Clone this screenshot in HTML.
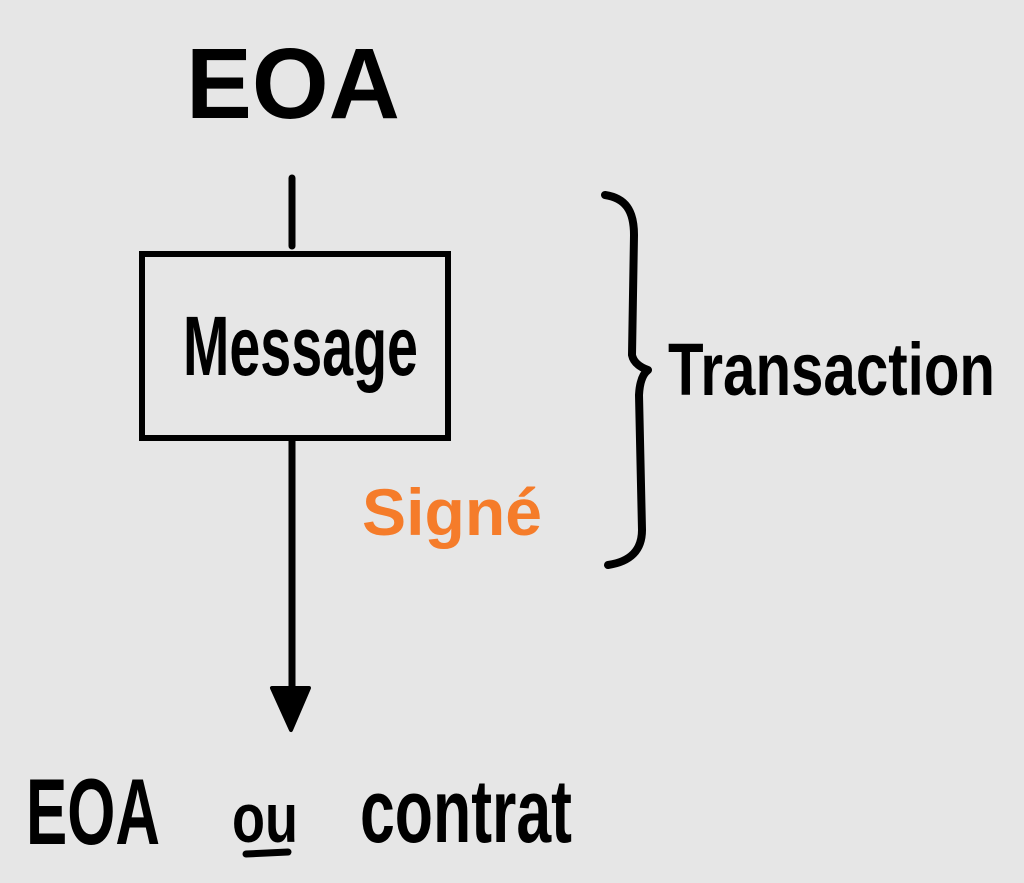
<!DOCTYPE html>
<html><head><meta charset="utf-8"><style>
html,body{margin:0;padding:0;background:#e6e6e6;}
svg{display:block;}
text{font-family:"Liberation Sans",sans-serif;font-weight:bold;}
</style></head><body>
<svg width="1024" height="883" viewBox="0 0 1024 883" xmlns="http://www.w3.org/2000/svg">
<rect width="1024" height="883" fill="#e6e6e6"/>
<text x="186" y="118" font-size="100" textLength="214" lengthAdjust="spacingAndGlyphs" fill="#000">EOA</text>
<line x1="292" y1="178" x2="292" y2="246" stroke="#000" stroke-width="7" stroke-linecap="round"/>
<rect x="142" y="254" width="306" height="184" fill="none" stroke="#000" stroke-width="6"/>
<text x="183" y="375" font-size="84" textLength="235" lengthAdjust="spacingAndGlyphs" fill="#000">Message</text>
<line x1="292" y1="438" x2="292" y2="692" stroke="#000" stroke-width="7"/>
<polygon points="272,688 309,688 291,730" fill="#000" stroke="#000" stroke-width="4" stroke-linejoin="round"/>
<text x="362" y="535" font-size="66" textLength="180" lengthAdjust="spacingAndGlyphs" fill="#f57c2a">Signé</text>
<path d="M605,195 C625,198 634,210 634,235 L632,355 Q634,365 648,370 Q640,376 639,395 L642,530 Q642,560 608,565" fill="none" stroke="#000" stroke-width="8" stroke-linecap="round" stroke-linejoin="round"/>
<text x="668" y="395" font-size="74" textLength="327" lengthAdjust="spacingAndGlyphs" fill="#000">Transaction</text>
<text x="26" y="844" font-size="94" textLength="134" lengthAdjust="spacingAndGlyphs" fill="#000">EOA</text>
<text x="232" y="842" font-size="70" textLength="66" lengthAdjust="spacingAndGlyphs" fill="#000">ou</text>
<line x1="246" y1="854" x2="288" y2="852" stroke="#000" stroke-width="7" stroke-linecap="round"/>
<text x="360" y="842" font-size="90" textLength="212" lengthAdjust="spacingAndGlyphs" fill="#000">contrat</text>
</svg>
</body></html>
